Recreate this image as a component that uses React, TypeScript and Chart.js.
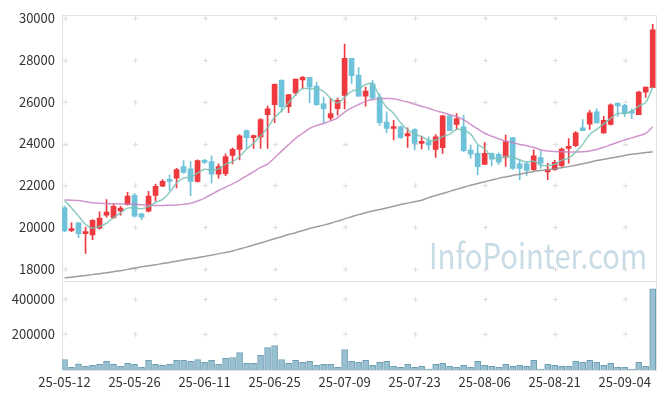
import React, { useEffect, useRef } from 'react';
import { Chart, registerables } from 'chart.js';

Chart.register(...registerables);

const dates = [
  '25-05-12','25-05-13','25-05-14','25-05-15','25-05-16','25-05-19','25-05-20','25-05-21','25-05-22','25-05-23',
  '25-05-26','25-05-27','25-05-28','25-05-29','25-05-30','25-06-02','25-06-04','25-06-05','25-06-09','25-06-10',
  '25-06-11','25-06-12','25-06-13','25-06-16','25-06-17','25-06-18','25-06-19','25-06-20','25-06-23','25-06-24',
  '25-06-25','25-06-26','25-06-27','25-06-30','25-07-01','25-07-02','25-07-03','25-07-04','25-07-07','25-07-08',
  '25-07-09','25-07-10','25-07-11','25-07-14','25-07-15','25-07-16','25-07-17','25-07-18','25-07-21','25-07-22',
  '25-07-23','25-07-24','25-07-25','25-07-28','25-07-29','25-07-30','25-07-31','25-08-01','25-08-04','25-08-05',
  '25-08-06','25-08-07','25-08-08','25-08-11','25-08-12','25-08-13','25-08-14','25-08-18','25-08-19','25-08-20',
  '25-08-21','25-08-22','25-08-25','25-08-26','25-08-27','25-08-28','25-08-29','25-09-01','25-09-02','25-09-03',
  '25-09-04','25-09-05','25-09-08','25-09-09','25-09-10',
];

const opens = [
  20930,19850,20220,19700,19640,19970,20590,20460,20790,21090,
  21530,20650,20780,21530,21970,22240,22350,22900,22800,22200,
  23190,23140,22540,22560,23430,23720,24620,24280,24320,25380,
  25850,27020,25760,26420,27030,27160,26740,25900,25220,25660,
  26300,28060,27270,26260,26850,26220,25030,24720,24800,24360,
  24670,24010,24090,23720,23800,25320,24910,24800,23690,23530,
  23010,23530,23490,23350,24280,23030,23030,22750,23330,22650,
  22750,22940,23770,23900,24750,24920,25510,24510,24910,25930,
  25820,25510,25380,26450,26660,
];
const highs = [
  21020,20220,20230,20020,20370,20740,21330,21140,21010,21680,
  21630,20680,21720,22070,22280,22510,22820,23190,23140,23220,
  23250,23410,23030,23510,23800,24430,24650,24400,25190,25790,
  26850,27050,26330,27080,27210,27160,26930,26220,26140,26170,
  28740,28060,27620,26690,27000,26370,25510,25110,24830,24750,
  24720,24360,24320,24430,25350,25380,25430,25350,23930,23900,
  24050,23560,23560,24400,24280,23250,23140,23700,23660,23060,
  23200,23800,24240,24570,25140,25590,25660,25300,25900,25930,
  25870,25660,26500,26690,29680,
];
const lows = [
  19800,19800,19510,18760,19420,19920,20490,20430,20590,21060,
  20490,20370,20740,21250,21940,21760,21880,22590,21520,22160,
  23050,22120,22350,22470,23030,23220,23770,23770,23770,23770,
  25000,25510,25470,26300,26610,25950,25820,25000,25110,25350,
  25650,26850,26260,25780,26100,24870,24510,24170,24250,23820,
  23700,23740,23700,23340,23530,24610,24690,23610,23300,22510,
  22990,22950,23000,22910,22770,22280,22480,22720,22820,22280,
  22720,22900,23060,23850,24610,24670,24990,24480,24880,25300,
  25300,25190,25380,26200,26660,
];
const closes = [
  19830,19950,19700,19800,20340,20450,20730,21010,20920,21490,
  20540,20490,21490,21960,22200,22200,22760,22620,22200,23190,
  23100,22540,22900,23380,23720,24370,24280,24360,25140,25660,
  26820,25760,26330,27080,27160,26690,25850,25660,25430,26060,
  28060,27240,26260,26500,26170,25000,24720,24800,24280,24480,
  24010,24090,23930,24320,25320,24610,25190,23660,23490,22900,
  23530,23250,23110,24090,22820,22820,22720,23410,23060,22750,
  23110,23740,23850,24510,24610,25460,24990,25110,25850,25790,
  25430,25450,26450,26690,29420,
];
const volumes = [
  59000,15000,35000,20000,26000,32000,48000,32000,20000,37000,
  32000,15000,54000,32000,26000,32000,54000,54000,48000,59000,
  43000,54000,32000,65000,70000,98000,37000,37000,82000,126000,
  137000,59000,37000,54000,43000,48000,26000,32000,32000,15000,
  115000,48000,43000,54000,26000,43000,48000,20000,15000,32000,
  15000,20000,5000,32000,37000,20000,15000,26000,15000,48000,
  26000,20000,15000,32000,20000,26000,20000,54000,5000,32000,
  26000,20000,20000,48000,43000,54000,43000,26000,37000,15000,
  15000,5000,43000,20000,454000,
];
const ma5 = [
  21280,20930,20540,20150,19960,20050,20200,20470,20690,20920,
  20940,20890,20990,21190,21340,21670,22120,22350,22400,22590,
  22770,22730,22790,23020,23130,23380,23730,24020,24370,24760,
  25250,25550,25940,26330,26630,26600,26620,26490,26160,25940,
  26210,26490,26610,26820,26850,26230,25730,25440,24990,24660,
  24460,24330,24160,24170,24330,24450,24670,24620,24450,23970,
  23750,23370,23260,23380,23360,23220,23110,23170,22970,22950,
  23010,23210,23300,23590,23960,24430,24680,24940,25200,25440,
  25430,25530,25790,25960,26690,
];
const ma20 = [
  21310,21300,21280,21230,21180,21150,21140,21130,21120,21120,
  21100,21080,21060,21050,21050,21060,21070,21100,21150,21260,
  21400,21580,21760,21920,22080,22260,22460,22660,22860,23020,
  23320,23640,23950,24250,24480,24720,24860,24960,25080,25230,
  25500,25700,25860,26010,26100,26140,26150,26140,26060,25980,
  25880,25780,25680,25570,25480,25380,25290,25130,24920,24700,
  24490,24350,24230,24120,24050,23960,23900,23820,23700,23640,
  23620,23610,23600,23600,23610,23650,23720,23820,23940,24060,
  24170,24270,24370,24480,24800,
];
const ma120 = [
  17590,17630,17670,17710,17750,17790,17840,17890,17940,18000,
  18070,18120,18170,18220,18280,18330,18390,18450,18510,18560,
  18620,18680,18740,18810,18880,18970,19060,19160,19260,19360,
  19460,19560,19660,19750,19850,19950,20030,20110,20200,20300,
  20410,20510,20610,20700,20780,20860,20930,21010,21090,21160,
  21230,21300,21420,21520,21620,21720,21820,21920,22010,22100,
  22180,22260,22340,22410,22480,22540,22610,22670,22710,22750,
  22800,22850,22900,22970,23040,23110,23190,23250,23310,23370,
  23430,23490,23530,23570,23610,
];
const priceTicks = [18000, 20000, 22000, 24000, 26000, 28000, 30000];
const volumeTicks = [200000, 400000];
const dateTickIndices = [0, 10, 20, 30, 40, 50, 60, 70, 80];
const watermark = 'InfoPointer.com';

const UP = '#ee393e';
const DOWN = '#6ec2d9';
const FONT = '"Noto Sans CJK KR", "Noto Sans", sans-serif';

const decorPlugin = {
  id: 'decor',
  beforeDatasetsDraw(chart: any) {
    const { ctx } = chart;
    const xs = chart.scales.x;
    const yp = chart.scales.y;
    const yv = chart.scales.yv;
    ctx.save();
    ctx.font = '35px ' + FONT;
    const w = ctx.measureText(watermark).width;
    ctx.fillStyle = '#c9dce6';
    ctx.textBaseline = 'alphabetic';
    ctx.translate(xs.right - 227, yp.bottom - 12);
    ctx.scale(218 / w, 1);
    ctx.fillText(watermark, 0, 0);
    ctx.restore();

    ctx.save();
    ctx.strokeStyle = '#e3e3e3';
    ctx.lineWidth = 1;
    ctx.strokeRect(Math.round(xs.left) + 0.5, Math.round(yp.top) + 0.5, Math.round(xs.right - xs.left), Math.round(yp.bottom - yp.top));
    ctx.strokeRect(Math.round(xs.left) + 0.5, Math.round(yv.top) + 0.5, Math.round(xs.right - xs.left), Math.round(yv.bottom - yv.top));
    ctx.strokeStyle = '#dedede';
    const xsPix = dateTickIndices.map((v) => Math.round(xs.getPixelForValue(v)) + 0.5);
    const ysPix = priceTicks.map((v) => Math.round(yp.getPixelForValue(v)) + 0.5)
      .concat(volumeTicks.map((v) => Math.round(yv.getPixelForValue(v)) + 0.5));
    ctx.beginPath();
    for (const px of xsPix) {
      for (const py of ysPix) {
        ctx.moveTo(px - 2.5, py);
        ctx.lineTo(px + 2.5, py);
        ctx.moveTo(px, py - 2.5);
        ctx.lineTo(px, py + 2.5);
      }
    }
    ctx.stroke();
    ctx.restore();
  },
};

export default function App() {
  const ref = useRef<HTMLCanvasElement | null>(null);

  useEffect(() => {
    if (!ref.current) return;
    const idx = dates.map((_, i) => i);
    const colors = idx.map((i) => (closes[i] >= opens[i] ? UP : DOWN));
    const tickFont = { family: FONT, size: 13 };
    const chart = new Chart(ref.current, {
      type: 'bar',
      data: {
        datasets: [
          {
            type: 'line',
            data: idx.map((i) => ({ x: i, y: ma5[i] })),
            borderColor: 'rgba(120,195,182,0.85)',
            borderWidth: 1.5,
            pointRadius: 0,
            tension: 0.3,
            yAxisID: 'y',
            order: 0,
          } as any,
          {
            type: 'line',
            data: idx.map((i) => ({ x: i, y: ma20[i] })),
            borderColor: 'rgba(200,130,195,0.85)',
            borderWidth: 1.5,
            pointRadius: 0,
            tension: 0.3,
            yAxisID: 'y',
            order: 0,
          } as any,
          {
            type: 'line',
            data: idx.map((i) => ({ x: i, y: ma120[i] })),
            borderColor: 'rgba(140,140,140,0.85)',
            borderWidth: 1.5,
            pointRadius: 0,
            tension: 0.3,
            yAxisID: 'y',
            order: 0,
          } as any,
          {
            type: 'bar',
            data: idx.map((i) => ({ x: i, y: [lows[i], highs[i]] })),
            backgroundColor: colors,
            barThickness: 1,
            grouped: false,
            yAxisID: 'y',
            order: 2,
          } as any,
          {
            type: 'bar',
            data: idx.map((i) => ({ x: i, y: [opens[i], closes[i]] })),
            backgroundColor: colors,
            barThickness: 5,
            minBarLength: 2,
            grouped: false,
            yAxisID: 'y',
            order: 1,
          } as any,
          {
            type: 'bar',
            data: idx.map((i) => ({ x: i, y: volumes[i] })),
            backgroundColor: '#98c0d0',
            borderColor: '#6d9fb4',
            borderWidth: 1,
            barThickness: 6,
            grouped: false,
            yAxisID: 'yv',
            order: 1,
          } as any,
        ],
      },
      options: {
        animation: false,
        responsive: false,
        events: [],
        layout: { padding: { top: 12, right: 9, left: 0, bottom: 0 } },
        plugins: { legend: { display: false }, tooltip: { enabled: false } },
        scales: {
          x: {
            type: 'linear',
            min: -0.36,
            max: 84.47,
            offset: false,
            grid: { display: false, drawTicks: false },
            border: { display: false },
            afterBuildTicks: (axis: any) => {
              axis.ticks = dateTickIndices.map((v) => ({ value: v }));
            },
            afterFit: (axis: any) => {
              axis.height = 28;
            },
            ticks: {
              autoSkip: false,
              maxRotation: 0,
              padding: 4,
              color: '#333',
              font: tickFont,
              callback: (v: any) => dates[Number(v)] ?? '',
            },
          },
          yv: {
            type: 'linear',
            position: 'left',
            stack: 'main',
            stackWeight: 90,
            min: 0,
            max: 500000,
            grid: { display: false, drawTicks: false },
            border: { display: false },
            afterBuildTicks: (axis: any) => {
              axis.ticks = volumeTicks.map((v) => ({ value: v }));
            },
            afterFit: (axis: any) => {
              axis.width = 62;
            },
            ticks: {
              padding: 7,
              color: '#333',
              font: tickFont,
              callback: (v: any) => String(v),
            },
          },
          y: {
            type: 'linear',
            position: 'left',
            stack: 'main',
            stackWeight: 268,
            min: 17460,
            max: 30140,
            grid: { display: false, drawTicks: false },
            border: { display: false },
            afterBuildTicks: (axis: any) => {
              axis.ticks = priceTicks.map((v) => ({ value: v }));
            },
            afterFit: (axis: any) => {
              axis.width = 62;
            },
            ticks: {
              padding: 7,
              color: '#333',
              font: tickFont,
              callback: (v: any) => String(v),
            },
          },
        },
      } as any,
      plugins: [decorPlugin],
    });
    return () => chart.destroy();
  }, []);

  return (
    <div style={{ position: 'fixed', left: 0, top: 0, width: 665, height: 398, background: '#fff' }}>
      <canvas ref={ref} width={665} height={398} style={{ display: 'block' }} />
    </div>
  );
}
